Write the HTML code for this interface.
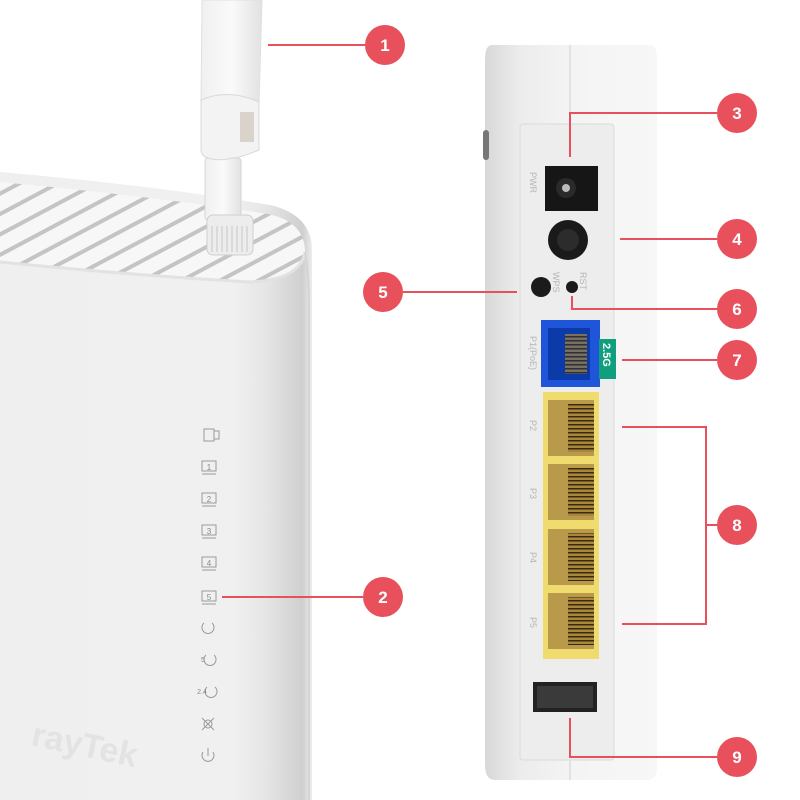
<!DOCTYPE html>
<html><head><meta charset="utf-8"><style>
html,body{margin:0;padding:0;background:#fff;width:800px;height:800px;overflow:hidden}
svg{display:block}
text{font-family:"Liberation Sans",sans-serif}
</style></head><body>
<svg width="800" height="800" viewBox="0 0 800 800" xmlns="http://www.w3.org/2000/svg">
<defs>
<linearGradient id="lf" x1="0" x2="1" y1="0" y2="0">
<stop offset="0" stop-color="#efefef"/><stop offset="0.75" stop-color="#f0f0f0"/><stop offset="0.85" stop-color="#e6e6e6"/><stop offset="0.97" stop-color="#cfcfcf"/><stop offset="1" stop-color="#ededed"/></linearGradient>
<linearGradient id="rb" x1="0" x2="1" y1="0" y2="0">
<stop offset="0" stop-color="#d8d8d8"/><stop offset="0.2" stop-color="#ececec"/><stop offset="0.5" stop-color="#f4f4f4"/><stop offset="1" stop-color="#f7f7f7"/></linearGradient>
<linearGradient id="ant" x1="0" x2="1" y1="0" y2="0">
<stop offset="0" stop-color="#f0f0f0"/><stop offset="0.5" stop-color="#fafafa"/><stop offset="1" stop-color="#e2e2e2"/></linearGradient>
<pattern id="slots" width="18" height="18" patternUnits="userSpaceOnUse" patternTransform="rotate(-28)">
<rect width="18" height="18" fill="#f7f7f7"/><rect y="7" width="18" height="4" fill="#c4c4c4"/></pattern>
<pattern id="pins" width="4" height="4" patternUnits="userSpaceOnUse"><rect width="4" height="4" fill="#a8863a"/><rect width="4" height="1.5" fill="#3a2a10"/></pattern>
</defs>

<!-- left device -->
<path d="M0 172 Q150 185 270 205 Q312 215 312 250 L312 800 L0 800 Z" fill="url(#lf)"/>
<path d="M0 182 Q150 196 268 214 Q305 222 305 252 Q300 280 250 282 Q140 276 0 262 Z" fill="url(#slots)"/>
<path d="M0 262 Q140 276 250 282 Q300 280 305 252" fill="none" stroke="#e2e2e2" stroke-width="3"/>
<path d="M305 252 Q309 275 309 300 L309 800" stroke="#d5d5d5" stroke-width="2" fill="none"/>
<text x="30" y="745" font-size="34" font-weight="bold" fill="#e3e3e3" transform="rotate(12 30 745)">rayTek</text>

<!-- antenna -->
<path d="M202 0 L262 0 L259 105 L201 105 Z" fill="url(#ant)" stroke="#e0e0e0"/>
<rect x="205" y="158" width="36" height="62" rx="3" fill="url(#ant)" stroke="#d6d6d6"/>
<path d="M201 100 Q228 88 259 102 L259 150 Q240 158 232 158 Q218 162 205 157 Q201 154 201 150 Z" fill="#f3f3f3" stroke="#d8d8d8"/>
<rect x="240" y="112" width="14" height="30" fill="#d9d3cc"/>
<rect x="207" y="215" width="46" height="40" rx="6" fill="#ededed" stroke="#cfcfcf"/>
<g stroke="#c8c8c8" stroke-width="1">
<line x1="212" y1="226" x2="212" y2="252"/><line x1="217" y1="226" x2="217" y2="252"/><line x1="222" y1="226" x2="222" y2="252"/><line x1="227" y1="226" x2="227" y2="252"/><line x1="232" y1="226" x2="232" y2="252"/><line x1="237" y1="226" x2="237" y2="252"/><line x1="242" y1="226" x2="242" y2="252"/><line x1="247" y1="226" x2="247" y2="252"/></g>

<!-- LED icons -->
<g fill="none" stroke="#9a9a9a" stroke-width="1">
<rect x="204" y="429" width="10" height="12"/><rect x="214" y="431" width="5" height="8"/>
<rect x="202" y="461" width="14" height="10"/><line x1="202" y1="474" x2="216" y2="474"/>
<rect x="202" y="493" width="14" height="10"/><line x1="202" y1="506" x2="216" y2="506"/>
<rect x="202" y="525" width="14" height="10"/><line x1="202" y1="538" x2="216" y2="538"/>
<rect x="202" y="557" width="14" height="10"/><line x1="202" y1="570" x2="216" y2="570"/>
<rect x="202" y="591" width="14" height="10"/><line x1="202" y1="604" x2="216" y2="604"/>
<path d="M204 623 a6 6 0 1 0 8 0"/>
<path d="M206 655 a6 6 0 1 0 8 0"/>
<path d="M207 687 a6 6 0 1 0 8 0"/>
<path d="M202 718 l12 12 M214 718 l-12 12"/><circle cx="208" cy="724" r="4"/>
<path d="M203 752 a6 6 0 1 0 10 0 M208 748 v8"/>
</g>
<g fill="#8a8a8a" font-size="8" text-anchor="middle">
<text x="209" y="470">1</text><text x="209" y="502">2</text><text x="209" y="534">3</text><text x="209" y="566">4</text><text x="209" y="600">5</text><text x="203" y="662" font-size="7">5</text><text x="202" y="694" font-size="7">2.4</text></g>

<!-- right device -->
<path d="M492 45 L650 45 Q657 45 657 60 L657 770 Q657 780 645 780 L495 780 Q485 780 485 765 L485 60 Q485 45 492 45 Z" fill="url(#rb)"/>
<line x1="570" y1="45" x2="570" y2="125" stroke="#cfcfcf"/>
<line x1="570" y1="760" x2="570" y2="780" stroke="#cfcfcf"/>
<rect x="483" y="130" width="6" height="30" rx="3" fill="#777"/>
<rect x="520" y="124" width="94" height="636" rx="3" fill="#ededed" stroke="#dadada"/>
<rect x="545" y="166" width="53" height="45" fill="#161616"/>
<circle cx="566" cy="188" r="10" fill="#2a2a2a"/><circle cx="566" cy="188" r="4" fill="#bbb"/>
<circle cx="568" cy="240" r="20" fill="#1a1a1a"/><circle cx="568" cy="240" r="11" fill="#2c2c2c"/>
<circle cx="541" cy="287" r="10" fill="#1b1b1b"/>
<circle cx="572" cy="287" r="6" fill="#1b1b1b"/>
<g fill="#b5b5b5" font-size="9">
<text transform="translate(530 172) rotate(90)">PWR</text>
<text transform="translate(553 272) rotate(90)">WPS</text>
<text transform="translate(580 272) rotate(90)">RST</text>
<text transform="translate(530 336) rotate(90)">P1(PoE)</text>
<text transform="translate(530 420) rotate(90)">P2</text>
<text transform="translate(530 488) rotate(90)">P3</text>
<text transform="translate(530 552) rotate(90)">P4</text>
<text transform="translate(530 617) rotate(90)">P5</text></g>
<rect x="541" y="320" width="59" height="67" fill="#1f55d8"/>
<rect x="548" y="328" width="42" height="52" fill="#0c3aa8"/>
<rect x="565" y="334" width="22" height="40" fill="url(#pins)" opacity="0.7"/>
<rect x="599" y="339" width="17" height="40" fill="#0f9f7e"/>
<text transform="translate(603 343) rotate(90)" font-size="11" font-weight="bold" fill="#fff">2.5G</text>
<rect x="543" y="392" width="56" height="267" fill="#f0dc6e"/>
<g fill="#b99a4a">
<rect x="548" y="400" width="46" height="56"/><rect x="548" y="464" width="46" height="56"/><rect x="548" y="529" width="46" height="56"/><rect x="548" y="593" width="46" height="56"/></g>
<g fill="url(#pins)">
<rect x="568" y="404" width="26" height="48"/><rect x="568" y="468" width="26" height="48"/><rect x="568" y="533" width="26" height="48"/><rect x="568" y="597" width="26" height="48"/></g>
<rect x="533" y="682" width="64" height="30" fill="#222"/><rect x="537" y="686" width="56" height="22" fill="#3a3a3a"/>

<!-- callout lines -->
<g stroke="#e8505b" stroke-width="2" fill="none">
<line x1="268" y1="45" x2="365" y2="45"/>
<line x1="222" y1="597" x2="363" y2="597"/>
<polyline points="570,157 570,113 717,113"/>
<line x1="620" y1="239" x2="717" y2="239"/>
<line x1="403" y1="292" x2="517" y2="292"/>
<polyline points="572,296 572,309 717,309"/>
<line x1="622" y1="360" x2="717" y2="360"/>
<polyline points="622,427 706,427 706,624 622,624"/>
<line x1="706" y1="525" x2="717" y2="525"/>
<polyline points="570,718 570,757 717,757"/>
</g>
<g fill="#e8505b"><circle cx="385" cy="45" r="20"/><circle cx="383" cy="597" r="20"/><circle cx="737" cy="113" r="20"/><circle cx="737" cy="239" r="20"/><circle cx="383" cy="292" r="20"/><circle cx="737" cy="309" r="20"/><circle cx="737" cy="360" r="20"/><circle cx="737" cy="525" r="20"/><circle cx="737" cy="757" r="20"/></g>
<g fill="#fff" font-size="17" text-anchor="middle" font-weight="bold">
<text x="385" y="51">1</text><text x="383" y="603">2</text><text x="737" y="119">3</text><text x="737" y="245">4</text><text x="383" y="298">5</text><text x="737" y="315">6</text><text x="737" y="366">7</text><text x="737" y="531">8</text><text x="737" y="763">9</text></g>
</svg>
</body></html>
